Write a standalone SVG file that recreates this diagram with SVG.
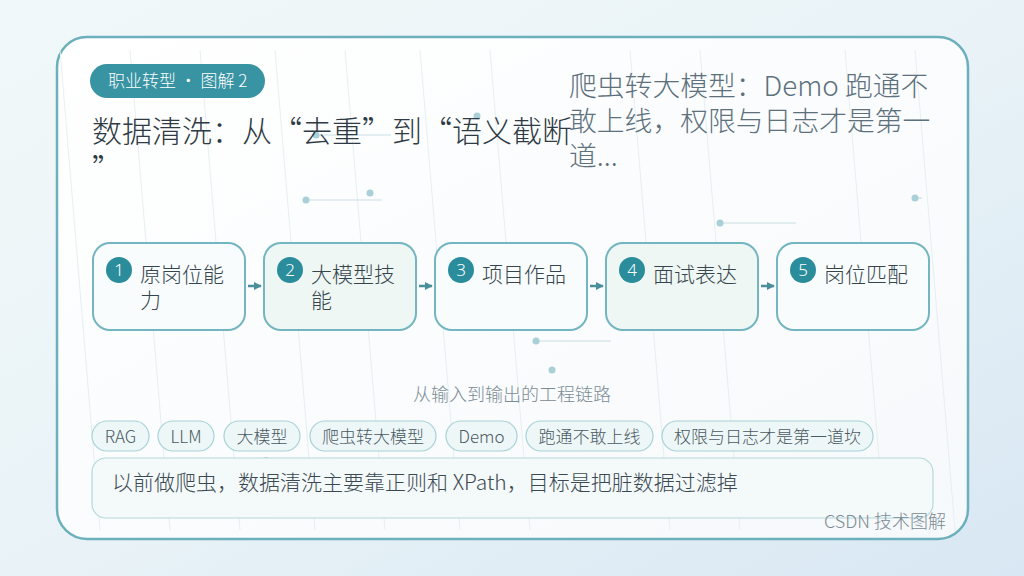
<svg xmlns="http://www.w3.org/2000/svg" width="1024" height="576" viewBox="0 0 1024 576">
<defs>
<linearGradient id="bg" x1="0" y1="0" x2="1" y2="1">
<stop offset="0" stop-color="#f1f8f9"/>
<stop offset="0.5" stop-color="#e9f3f7"/>
<stop offset="1" stop-color="#d8e7f3"/>
</linearGradient>
<linearGradient id="card" x1="0" y1="0" x2="1" y2="1">
<stop offset="0" stop-color="#ffffff"/>
<stop offset="1" stop-color="#f6f9fb"/>
</linearGradient>
<marker id="arr" viewBox="0 0 10 10" refX="9" refY="5" markerWidth="8" markerHeight="9" orient="auto" markerUnits="userSpaceOnUse">
<path d="M0,0 L10,5 L0,10 z" fill="#4a8e9b"/>
</marker>
<style>
.cjk{font-family:"Noto Sans CJK SC","Noto Sans",sans-serif;font-weight:300}
.node{fill:#f8fcfd;stroke:#73b5c1;stroke-width:2}
.node.alt{fill:#eef7f3}
.num{fill:#2b8d9c}
.numt{font-family:"Noto Sans","Noto Sans CJK SC",sans-serif;font-weight:300;font-size:17px;fill:#ffffff;text-anchor:middle}
.lbl{font-size:21px;fill:#36444e}
.tag{fill:#eef7f8;stroke:#a8d2d8;stroke-width:1.2}
.tagt{font-size:17px;fill:#4a5962;text-anchor:middle}
.deco{stroke:#c7dfe4;stroke-width:1.2}
.dot{fill:#a9d0d7}
.streak{stroke:#e6eff2;stroke-width:1}
.edge{stroke:#4a8e9b;stroke-width:2.5;fill:none}
</style>
</defs>
<rect width="1024" height="576" fill="url(#bg)"/>
<rect x="57" y="37" width="911" height="502" rx="30" fill="url(#card)" stroke="#6db0bd" stroke-width="2.5"/>
<g id="streaks">
<line class="streak" x1="60" y1="50" x2="100" y2="530"/>
<line class="streak" x1="130" y1="50" x2="170" y2="530"/>
<line class="streak" x1="200" y1="50" x2="240" y2="530"/>
<line class="streak" x1="275" y1="50" x2="315" y2="530"/>
<line class="streak" x1="345" y1="50" x2="385" y2="530"/>
<line class="streak" x1="420" y1="50" x2="460" y2="530"/>
<line class="streak" x1="490" y1="50" x2="530" y2="530"/>
<line class="streak" x1="630" y1="50" x2="670" y2="530"/>
<line class="streak" x1="700" y1="50" x2="740" y2="530"/>
<line class="streak" x1="845" y1="50" x2="885" y2="530"/>
<line class="streak" x1="915" y1="50" x2="955" y2="530"/>
</g>
<g id="decor">
<line class="deco" x1="316" y1="135" x2="391" y2="135"/>
<circle class="dot" cx="316" cy="135" r="3.5"/>
<circle class="dot" cx="477" cy="116" r="3.5"/>
<line class="deco" x1="306" y1="200" x2="382" y2="200"/>
<circle class="dot" cx="306" cy="200" r="3.5"/>
<circle class="dot" cx="370" cy="193" r="3.5"/>
<line class="deco" x1="720" y1="223" x2="796" y2="223"/>
<circle class="dot" cx="720" cy="223" r="3.5"/>
<line class="deco" x1="915" y1="198" x2="922" y2="198"/>
<circle class="dot" cx="915" cy="198" r="3.5"/>
<line class="deco" x1="536" y1="341" x2="611" y2="341"/>
<circle class="dot" cx="536" cy="341" r="3.5"/>
<circle class="dot" cx="552" cy="370" r="3.5"/>
<line class="deco" x1="266" y1="460" x2="342" y2="460"/>
<circle class="dot" cx="266" cy="460" r="3"/>
</g>
<g id="badge">
<rect x="90" y="64" width="175" height="34" rx="17" fill="#3893a3"/>
<text class="cjk" x="108" y="87" font-size="17" fill="#ffffff">职业转型 · 图解 2</text>
</g>
<g id="title">
<text class="cjk" x="92" y="142" font-size="30" fill="#2e3a44">数据清洗：从“去重”到“语义截断</text>
<text class="cjk" x="92" y="180" font-size="30" fill="#2e3a44">”</text>
</g>
<g id="subtitle">
<text class="cjk" x="569" y="96" font-size="27.8" fill="#5d717d">爬虫转大模型：Demo 跑通不</text>
<text class="cjk" x="569" y="131" font-size="27.8" fill="#5d717d">敢上线，权限与日志才是第一</text>
<text class="cjk" x="569" y="166" font-size="27.8" fill="#5d717d">道...</text>
</g>
<g id="connectors">
<line class="edge" x1="248" y1="286" x2="261" y2="286" marker-end="url(#arr)"/>
<line class="edge" x1="419" y1="286" x2="432" y2="286" marker-end="url(#arr)"/>
<line class="edge" x1="590" y1="286" x2="603" y2="286" marker-end="url(#arr)"/>
<line class="edge" x1="761" y1="286" x2="774" y2="286" marker-end="url(#arr)"/>
</g>
<g id="node1">
<rect class="node" x="93" y="243" width="152" height="87" rx="17"/>
<circle class="num" cx="119" cy="270" r="13"/>
<text class="numt" x="119" y="276">1</text>
<text class="cjk lbl" x="140" y="282">原岗位能</text>
<text class="cjk lbl" x="140" y="308">力</text>
</g>
<g id="node2">
<rect class="node alt" x="264" y="243" width="152" height="87" rx="17"/>
<circle class="num" cx="290" cy="270" r="13"/>
<text class="numt" x="290" y="276">2</text>
<text class="cjk lbl" x="311" y="282">大模型技</text>
<text class="cjk lbl" x="311" y="308">能</text>
</g>
<g id="node3">
<rect class="node" x="435" y="243" width="152" height="87" rx="17"/>
<circle class="num" cx="461" cy="270" r="13"/>
<text class="numt" x="461" y="276">3</text>
<text class="cjk lbl" x="482" y="282">项目作品</text>
</g>
<g id="node4">
<rect class="node alt" x="606" y="243" width="152" height="87" rx="17"/>
<circle class="num" cx="632" cy="270" r="13"/>
<text class="numt" x="632" y="276">4</text>
<text class="cjk lbl" x="653" y="282">面试表达</text>
</g>
<g id="node5">
<rect class="node" x="777" y="243" width="152" height="87" rx="17"/>
<circle class="num" cx="803" cy="270" r="13"/>
<text class="numt" x="803" y="276">5</text>
<text class="cjk lbl" x="824" y="282">岗位匹配</text>
</g>
<g id="caption">
<text class="cjk" x="512" y="401" font-size="18" fill="#7b8b95" text-anchor="middle">从输入到输出的工程链路</text>
</g>
<g id="tags">
<rect class="tag" x="92" y="421" width="57" height="30" rx="15"/>
<text class="cjk tagt" x="120.5" y="443">RAG</text>
<rect class="tag" x="158" y="421" width="56" height="30" rx="15"/>
<text class="cjk tagt" x="186" y="443">LLM</text>
<rect class="tag" x="224" y="421" width="76" height="30" rx="15"/>
<text class="cjk tagt" x="262" y="443">大模型</text>
<rect class="tag" x="310" y="421" width="126" height="30" rx="15"/>
<text class="cjk tagt" x="373" y="443">爬虫转大模型</text>
<rect class="tag" x="446" y="421" width="71" height="30" rx="15"/>
<text class="cjk tagt" x="481.5" y="443">Demo</text>
<rect class="tag" x="526" y="421" width="127" height="30" rx="15"/>
<text class="cjk tagt" x="589.5" y="443">跑通不敢上线</text>
<rect class="tag" x="662" y="421" width="211" height="30" rx="15"/>
<text class="cjk tagt" x="767.5" y="443">权限与日志才是第一道坎</text>
</g>
<g id="note">
<rect x="92" y="458" width="841" height="60" rx="14" fill="#f4f9fa" stroke="#b4d8dd" stroke-width="1.2"/>
<text class="cjk" x="112" y="490" font-size="21" fill="#3b4953">以前做爬虫，数据清洗主要靠正则和 XPath，目标是把脏数据过滤掉</text>
</g>
<g id="footer">
<text class="cjk" x="946" y="528" font-size="18" fill="#7b8a94" text-anchor="end">CSDN 技术图解</text>
</g>
</svg>
